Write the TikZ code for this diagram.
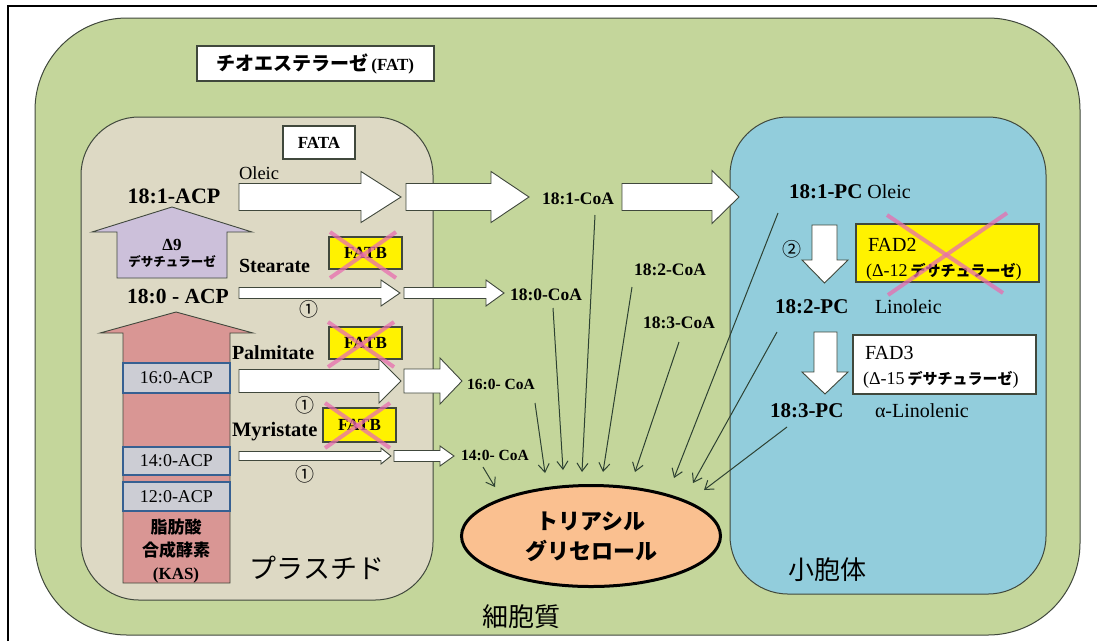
\documentclass[tikz,border=0pt]{standalone}
\usepackage{fontspec}
\setmainfont{Liberation Serif}
\newfontfamily\jp{Noto Sans CJK JP}
\usetikzlibrary{shapes.geometric,arrows.meta}

\definecolor{cellgreen}{RGB}{196,214,155}
\definecolor{plastidc}{RGB}{221,217,196}
\definecolor{erblue}{RGB}{146,205,220}
\definecolor{lav}{RGB}{204,192,218}
\definecolor{kaspink}{RGB}{217,150,148}
\definecolor{acpgrey}{RGB}{204,205,212}
\definecolor{acpblue}{RGB}{54,96,146}
\definecolor{tagorange}{RGB}{250,192,144}
\definecolor{xpink}{RGB}{232,110,175}
\definecolor{edgec}{RGB}{64,72,60}
\definecolor{thinarr}{RGB}{45,65,50}

\newcommand\fs[1]{\fontsize{#1}{#1}\selectfont}
% right block arrow: x0, xhead, xapex, ycenter, shaft half, head half
\newcommand\rarrow[6]{\draw[blockarr] (#1,{#4-#5}) -- (#2,{#4-#5}) -- (#2,{#4-#6}) -- (#3,#4) -- (#2,{#4+#6}) -- (#2,{#4+#5}) -- (#1,{#4+#5}) -- cycle;}
% vertical block arrow: shaft xl, shaft xr, y tail, y headbase, head xl, head xr, apex x, apex y, style
\newcommand\varrow[9]{\draw[#9] (#1,#3) -- (#1,#4) -- (#5,#4) -- (#7,#8) -- (#6,#4) -- (#2,#4) -- (#2,#3) -- cycle;}

\begin{document}
\begin{tikzpicture}[x=1pt,y=-1pt,
  every node/.style={inner sep=0pt, outer sep=0pt},
  region/.style={draw=edgec, line width=1pt},
  blockarr/.style={draw=edgec, fill=white, line width=0.9pt, line join=miter},
  labelbox/.style={draw=edgec, fill=white, line width=1.1pt},
  fatbbox/.style={draw=edgec, fill=yellow, line width=1.1pt},
  acpbox/.style={draw=acpblue, fill=acpgrey, line width=2.2pt},
  xmark/.style={draw=xpink, line width=4pt, opacity=0.75},
  feed/.style={draw=thinarr, line width=1pt, -{Straight Barb[length=8pt,width=11pt]}},
  lbl/.style={font=\bfseries\fs{17.5}},
  circnum/.style={font=\jp\fs{19}},
]
\useasboundingbox (0,0) rectangle (1097,641);
\fill[white] (0,0) rectangle (1097,641);
\draw[line width=1.6pt] (8,641) -- (8,6) -- (1097,6);

% regions
\draw[region, fill=cellgreen, rounded corners=92pt] (35,18) rectangle (1080,635);
\draw[region, fill=plastidc, rounded corners=58pt] (81,117) rectangle (433,600);
\draw[region, fill=erblue, rounded corners=58pt] (730,117) rectangle (1046,594);

% TAG
\node[ellipse, draw=black, line width=3pt, fill=tagorange, minimum width=259pt, minimum height=101pt] (tag) at (591,536) {};
\node[align=center, font=\jp\bfseries\fontsize{22}{30}\selectfont] (tagtxt) at (591,537) {トリアシル\\グリセロール};

% labels (CoA)
\node[lbl] (c181) at (578,199) {18:1-CoA};
\node[lbl] (c180) at (546,295) {18:0-CoA};
\node[lbl] (c182) at (670,270) {18:2-CoA};
\node[lbl] (c183) at (679,323) {18:3-CoA};
\node[font=\bfseries\fs{15.5}] (c160) at (501,384) {16:0- CoA};
\node[font=\bfseries\fs{15.5}] (c140) at (495,455) {14:0- CoA};

% thin feed arrows
\coordinate (s1) at (483,467); \coordinate (e1) at (495,487);
\coordinate (s2) at (535,403); \coordinate (e2) at (545,473);
\coordinate (s3) at (553,308); \coordinate (e3) at (563,470);
\coordinate (s4) at (595,215); \coordinate (e4) at (582,472);
\coordinate (s5) at (632,287); \coordinate (e5) at (603,472);
\coordinate (s6) at (679,342); \coordinate (e6) at (635,472);
\coordinate (s7) at (778,213); \coordinate (e7) at (674,478);
\coordinate (s8) at (777,332); \coordinate (e8) at (693,483);
\coordinate (s9) at (787,427); \coordinate (e9) at (704,490);
\foreach \i in {1,...,9} {\draw[feed] (s\i) -- (e\i);}

% FAT / FATA boxes
\node[labelbox, minimum width=237pt, minimum height=35pt] (fat) at (315.5,63.5) {};
\node (fattxt) at (315.5,63.5) {{\jp\bfseries\fs{19}チオエステラーゼ} {\bfseries\fs{17}(FAT)}};
\node[labelbox, minimum width=72pt, minimum height=33pt, font=\bfseries\fs{17}] (fata) at (319,142.5) {FATA};

% desaturase (lavender) arrow
\varrow{117}{227}{278}{232}{92}{252}{172}{207}{blockarr, fill=lav}
\node[font=\bfseries\fs{17}] (d9) at (172,245) {Δ9};
\node[font=\jp\bfseries\fs{12.5}] (d9b) at (172,262) {デサチュラーゼ};

% KAS (pink) arrow
\varrow{123}{230}{583}{333}{100}{253}{176}{312}{blockarr, fill=kaspink}
\node[acpbox, minimum width=107pt, minimum height=30pt, font=\fs{18}] (a16) at (176.5,378) {16:0-ACP};
\node[acpbox, minimum width=107pt, minimum height=28pt, font=\fs{18}] (a14) at (176.5,461) {14:0-ACP};
\node[acpbox, minimum width=107pt, minimum height=29pt, font=\fs{18}] (a12) at (176.5,496.5) {12:0-ACP};
\node[align=center, font=\bfseries\fontsize{17}{23}\selectfont] (kas) at (176,551) {{\jp 脂肪酸}\\{\jp 合成酵素}\\(KAS)};

% ACP labels
\node[font=\bfseries\fs{22}] (acp181) at (174,196) {18:1-ACP};
\node[font=\bfseries\fs{21.5}] (acp180) at (178,296) {18:0 - ACP};

% acid names
\node[anchor=west, font=\fs{18.5}] (oleic) at (239,173) {Oleic};
\node[anchor=west, font=\bfseries\fs{20}] (stea) at (239,266) {Stearate};
\node[anchor=west, font=\bfseries\fs{20}] (palm) at (232,353) {Palmitate};
\node[anchor=west, font=\bfseries\fs{20.5}] (myri) at (232,432) {Myristate};

% block arrows
\rarrow{239}{361}{401}{197}{13.5}{25.5}
\rarrow{406}{491}{529}{197}{13.5}{25.5}
\rarrow{622}{712}{739}{197}{13.5}{26.5}
\rarrow{239}{381}{400}{293}{5.5}{13}
\rarrow{404}{486}{504}{293}{5.5}{13}
\rarrow{239}{379}{401}{381}{11.5}{22}
\rarrow{404}{440}{462}{381}{12}{23}
\rarrow{239}{381}{391}{456}{4.5}{8}
\rarrow{394}{440}{454}{456}{5.5}{10}

% FATB boxes with crosses
\node[fatbbox, minimum width=73pt, minimum height=32pt, font=\bfseries\fs{17}] (fb1) at (365.5,253) {FATB};
\draw[xmark] (330,232) -- (396,278);
\draw[xmark] (396,232) -- (330,278);
\node[fatbbox, minimum width=73pt, minimum height=32pt, font=\bfseries\fs{17}] (fb2) at (365.5,343) {FATB};
\draw[xmark] (328,322) -- (394,367);
\draw[xmark] (394,322) -- (328,367);
\node[fatbbox, minimum width=73pt, minimum height=34pt, font=\bfseries\fs{17}] (fb3) at (359.5,425) {FATB};
\draw[xmark] (325,403) -- (390,448);
\draw[xmark] (390,403) -- (325,448);

% circled numbers
\node[circnum] (n1a) at (309,309) {①};
\node[circnum] (n1b) at (305,405) {①};
\node[circnum] (n1c) at (305,474) {①};

% ER contents
\node[anchor=west, font=\fs{20}] (pc181) at (789,192) {{\bfseries\fs{21}18:1-PC} Oleic};
\node[circnum] (n2) at (792,249) {②};
\varrow{812}{837}{225}{260}{802}{848}{824.5}{283}{blockarr}
\node[fatbbox, minimum width=183pt, minimum height=58pt] (fad2) at (947.5,253) {};
\node[anchor=west, font=\fs{20}] (fad2a) at (868,245) {FAD2};
\node[anchor=west, font=\fs{18}] (fad2b) at (866,272) {(Δ-12\,{\jp\bfseries\fs{15}デサチュラーゼ})};
\draw[xmark] (887,215) -- (1003,293);
\draw[xmark] (1007,213) -- (888,295);

\node[anchor=west, font=\bfseries\fs{21}] (pc182) at (775,307) {18:2-PC};
\node[anchor=west, font=\fs{20}] (lino) at (875,307) {Linoleic};
\varrow{814}{837}{332}{372}{802}{848}{825}{394}{blockarr}
\node[labelbox, minimum width=183pt, minimum height=59pt] (fad3) at (944.5,364.5) {};
\node[anchor=west, font=\fs{20}] (fad3a) at (865,353) {FAD3};
\node[anchor=west, font=\fs{18}] (fad3b) at (863,380) {(Δ-15\,{\jp\bfseries\fs{15}デサチュラーゼ})};

\node[anchor=west, font=\bfseries\fs{21}] (pc183) at (770,411) {18:3-PC};
\node[anchor=west, font=\fs{20}] (alino) at (875,411) {α-Linolenic};

% compartment names
\node[font=\jp\fs{27}] (plastid) at (317,568) {プラスチド};
\node[font=\jp\fs{26}] (cyto) at (521,617) {細胞質};
\node[font=\jp\fs{26}] (er) at (827,570) {小胞体};
\end{tikzpicture}
\end{document}
